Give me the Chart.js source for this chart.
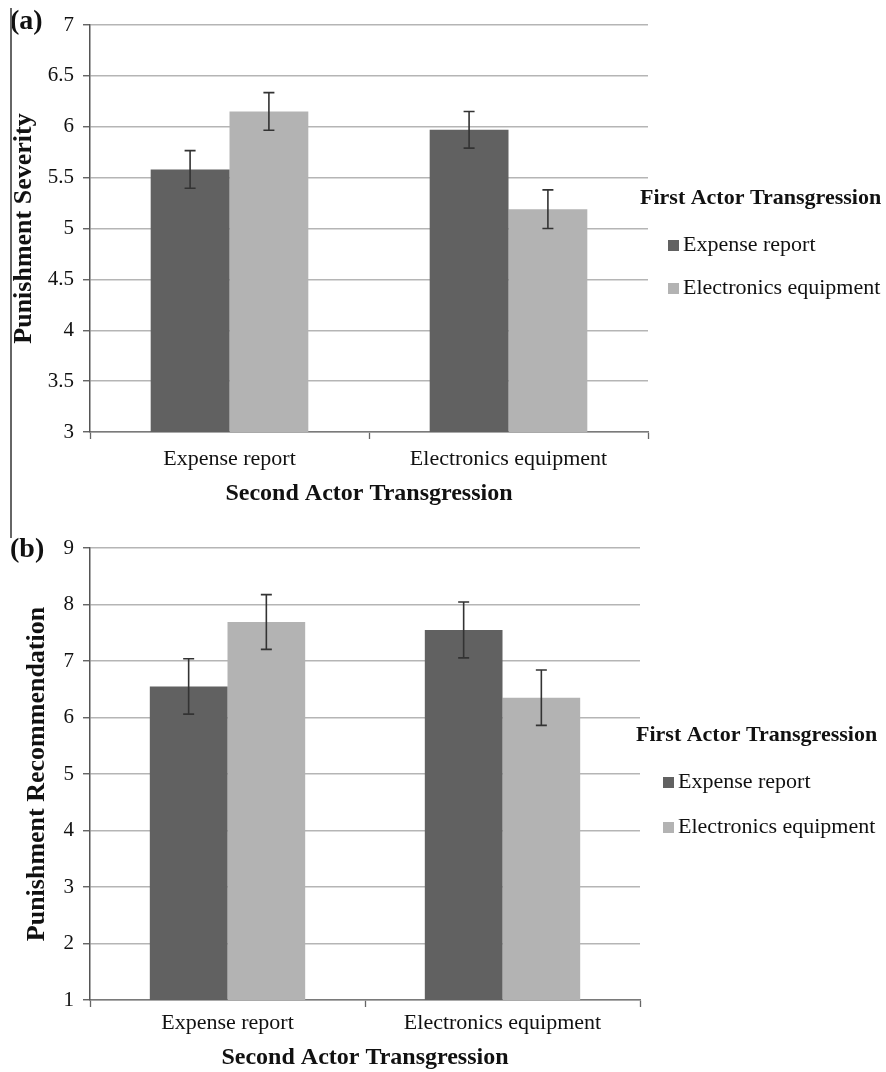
<!DOCTYPE html>
<html>
<head>
<meta charset="utf-8">
<script src="https://cdn.jsdelivr.net/npm/chart.js@4.4.1/dist/chart.umd.min.js"></script>
<style>
  html, body { margin: 0; padding: 0; background: #fff; }
  #page { position: relative; width: 886px; height: 1072px; overflow: hidden; background: #fff; }
  #page canvas { position: absolute; left: 0; }
  #frame { position: absolute; left: 10px; top: 8px; height: 530px; border-left: 2px solid #666; }
</style>
</head>
<body>
<div id="page">
  <canvas id="chartA" width="886" height="520" style="top:0"></canvas>
  <canvas id="chartB" width="886" height="552" style="top:520px"></canvas>
  <div id="frame"></div>
</div>
<script>
// Shared labels
const categories = ['Expense report', 'Electronics equipment'];
const seriesNames = ['Expense report', 'Electronics equipment'];
const legendTitle = 'First Actor Transgression';
const xAxisTitle = 'Second Actor Transgression';

// Panel (a): punishment severity
const severityExpense = [5.58, 5.97];
const severityElectronics = [6.15, 5.19];
const severityExpenseErr = [0.185, 0.18];
const severityElectronicsErr = [0.185, 0.19];
const severityTicks = [3, 3.5, 4, 4.5, 5, 5.5, 6, 6.5, 7];

// Panel (b): punishment recommendation
const recommendExpense = [6.55, 7.55];
const recommendElectronics = [7.69, 6.35];
const recommendExpenseErr = [0.49, 0.495];
const recommendElectronicsErr = [0.485, 0.49];
const recommendTicks = [1, 2, 3, 4, 5, 6, 7, 8, 9];

const SERIF = '"Liberation Serif", "Times New Roman", serif';
const DARK = '#616161';
const LIGHT = '#b3b3b3';

// Vertical error bars with caps, positioned from each bar element
const errorBars = {
  id: 'errorBars',
  afterDatasetsDraw(chart, args, o) {
    const ctx = chart.ctx;
    const y = chart.scales.y;
    ctx.save();
    ctx.strokeStyle = o.color;
    ctx.lineWidth = o.width;
    chart.data.datasets.forEach((ds, i) => {
      chart.getDatasetMeta(i).data.forEach((bar, j) => {
        const v = ds.data[j], e = ds.errors[j];
        const yt = y.getPixelForValue(v + e);
        const yb = y.getPixelForValue(v - e);
        const x = bar.x, h = o.cap / 2;
        ctx.beginPath();
        ctx.moveTo(x, yt); ctx.lineTo(x, yb);
        ctx.moveTo(x - h, yt); ctx.lineTo(x + h, yt);
        ctx.moveTo(x - h, yb); ctx.lineTo(x + h, yb);
        ctx.stroke();
      });
    });
    ctx.restore();
  }
};

// Legend block beside the plot plus the panel tag
const sideLegend = {
  id: 'sideLegend',
  afterDraw(chart, args, o) {
    const ctx = chart.ctx;
    ctx.save();
    ctx.textBaseline = 'middle';
    ctx.textAlign = 'left';
    ctx.fillStyle = '#111';
    ctx.font = 'bold 22px ' + SERIF;
    ctx.fillText(o.title, o.titleX, o.titleY);
    ctx.font = '22px ' + SERIF;
    chart.data.datasets.forEach((ds, i) => {
      const cy = o.itemY + i * o.itemGap;
      ctx.fillStyle = ds.backgroundColor;
      ctx.fillRect(o.boxX, Math.round(cy - o.box / 2), o.box, o.box);
      ctx.fillStyle = '#111';
      ctx.fillText(ds.label, o.textX, cy);
    });
    ctx.font = 'bold 28px ' + SERIF;
    ctx.fillText(o.tag, o.tagX, o.tagY);
    ctx.restore();
  }
};

function makeChart(id, cfg) {
  return new Chart(document.getElementById(id), {
    type: 'bar',
    data: {
      labels: categories,
      datasets: [
        { label: seriesNames[0], data: cfg.a, errors: cfg.aErr, backgroundColor: DARK },
        { label: seriesNames[1], data: cfg.b, errors: cfg.bErr, backgroundColor: LIGHT }
      ]
    },
    options: {
      responsive: false,
      devicePixelRatio: 1,
      animation: false,
      layout: { padding: cfg.padding },
      datasets: { bar: { categoryPercentage: 0.565, barPercentage: 1 } },
      plugins: {
        legend: { display: false },
        tooltip: { enabled: false },
        errorBars: { color: '#333', width: 1.6, cap: 11 },
        sideLegend: cfg.legend
      },
      scales: {
        x: {
          afterFit(s) { s.height = cfg.xHeight; },
          grid: { display: true, drawOnChartArea: false, drawTicks: true, tickLength: 7,
                  offset: true, tickColor: '#666', tickWidth: 1.3 },
          border: { display: true, color: '#7a7a7a', width: 1.5 },
          ticks: { color: '#111', font: { family: SERIF, size: 22 }, padding: cfg.xTickPad,
                   maxRotation: 0, autoSkip: false },
          title: { display: true, text: xAxisTitle, color: '#111',
                   font: { family: SERIF, size: 24, weight: 'bold' },
                   padding: { top: 0, bottom: cfg.xTitlePad } }
        },
        y: {
          min: cfg.ticks[0],
          max: cfg.ticks[cfg.ticks.length - 1],
          afterFit(s) { s.width = 90; },
          afterBuildTicks(s) { s.ticks = cfg.ticks.map(v => ({ value: v })); },
          grid: { color: '#b5b5b5', lineWidth: 1.5, tickLength: 7, tickColor: '#555', tickWidth: 1.3 },
          border: { display: true, color: '#555', width: 1.5 },
          ticks: { color: '#111', font: { family: SERIF, size: 21 }, padding: 9,
                   callback: v => String(v) },
          title: { display: true, text: cfg.yTitle, color: '#111',
                   font: { family: SERIF, size: 26, weight: 'bold' },
                   padding: { top: cfg.yTitlePad, bottom: 0 } }
        }
      }
    },
    plugins: [errorBars, sideLegend]
  });
}

makeChart('chartA', {
  a: severityExpense, b: severityElectronics,
  aErr: severityExpenseErr, bErr: severityElectronicsErr,
  ticks: severityTicks,
  yTitle: 'Punishment Severity', yTitlePad: 9,
  padding: { top: 25, right: 238, bottom: 0, left: 0 },
  xHeight: 88, xTickPad: 7, xTitlePad: 12,
  legend: { title: legendTitle, titleX: 640, titleY: 198, boxX: 668, box: 11, textX: 683,
            itemY: 245, itemGap: 43, tag: '(a)', tagX: 10, tagY: 22 }
});

makeChart('chartB', {
  a: recommendExpense, b: recommendElectronics,
  aErr: recommendExpenseErr, bErr: recommendElectronicsErr,
  ticks: recommendTicks,
  yTitle: 'Punishment Recommendation', yTitlePad: 22,
  padding: { top: 28, right: 246, bottom: 0, left: 0 },
  xHeight: 72, xTickPad: 3, xTitlePad: 0,
  legend: { title: legendTitle, titleX: 636, titleY: 215, boxX: 663, box: 11, textX: 678,
            itemY: 262, itemGap: 45, tag: '(b)', tagX: 10, tagY: 30 }
});
</script>
</body>
</html>
